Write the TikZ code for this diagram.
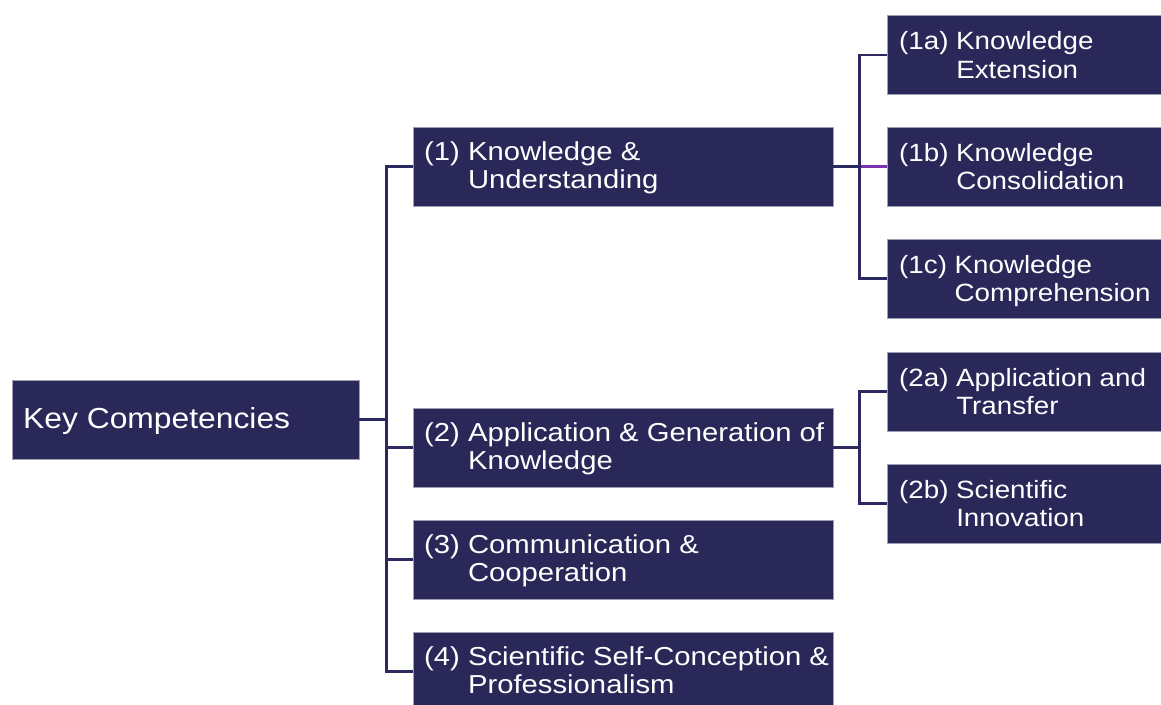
\documentclass[tikz,border=0pt]{standalone}
\usepackage{fontspec}
\setmainfont{Liberation Sans}
\newfontfamily\rootfont{Liberation Sans}[FakeStretch=1.097]
\newfontfamily\lonefont{Liberation Sans}[FakeStretch=1.125]
\newfontfamily\ltwofont{Liberation Sans}[FakeStretch=1.11]
\definecolor{boxc}{RGB}{42,39,89}
\definecolor{linec}{RGB}{44,41,96}
\definecolor{purp}{RGB}{120,50,172}
\newcommand\twolines[3]{\begin{tabular}[t]{@{}l@{}}#1 #2\\\hphantom{#1 }#3\end{tabular}}
\tikzset{
  boxbase/.style={rectangle, fill=boxc, draw=white!55!boxc, line width=0.8pt, inner sep=0pt, minimum height=79pt},
  rootbox/.style={boxbase, minimum width=347pt},
  lonebox/.style={boxbase, minimum width=420pt},
  ltwobox/.style={boxbase, minimum width=282pt},
  txt/.style={anchor=base west, inner sep=0pt, text=white},
  roottxt/.style={txt, font=\rootfont\fontsize{29}{34}\selectfont},
  lonetxt/.style={txt, font=\lonefont\fontsize{26}{28.5}\selectfont},
  ltwotxt/.style={txt, font=\ltwofont\fontsize{25}{28.5}\selectfont},
  conn/.style={draw=linec, line width=2.3pt},
  connp/.style={draw=purp, line width=2.3pt}
}
\begin{document}
\begin{tikzpicture}[x=1pt, y=-1pt]
\useasboundingbox (0,0) rectangle (1161,704);
\clip (0,0) rectangle (1161,704);
% boxes
\node[rootbox] (root) at (185.5,419.5) {};
\node[lonebox] (k1) at (623,166.5) {};
\node[lonebox] (k2) at (623,447.5) {};
\node[lonebox] (k3) at (623,559.5) {};
\node[lonebox] (k4) at (623,671.5) {};
\node[ltwobox] (k1a) at (1028,55) {};
\node[ltwobox] (k1b) at (1028,166.5) {};
\node[ltwobox] (k1c) at (1028,278.5) {};
\node[ltwobox] (k2a) at (1028,391.5) {};
\node[ltwobox] (k2b) at (1028,503.5) {};
% junctions
\coordinate (tr) at (386.5,419.5);
\coordinate (t1) at (859.5,166.5);
\coordinate (t2) at (859.5,447.5);
\coordinate (t1r) at (861,166.5);
% connectors
\draw[conn] (root.east) -- (tr);
\draw[conn] (tr) |- (k1.west);
\draw[conn] (tr) |- (k2.west);
\draw[conn] (tr) |- (k3.west);
\draw[conn] (tr) |- (k4.west);
\draw[conn] (k1.east) -- (t1);
\draw[conn] (t1) |- (k1a.west);
\draw[conn] (t1) |- (k1c.west);
\draw[connp] (t1r) -- (k1b.west);
\draw[conn] (k2.east) -- (t2);
\draw[conn] (t2) |- (k2a.west);
\draw[conn] (t2) |- (k2b.west);
% texts
\node[roottxt] (roott) at (23,428.3) {Key Competencies};
\node[lonetxt] (k1t) at (424,160) {\twolines{(1)}{Knowledge \&}{Understanding}};
\node[lonetxt] (k2t) at (424,441) {\twolines{(2)}{Application \& Generation of}{Knowledge}};
\node[lonetxt] (k3t) at (424,553) {\twolines{(3)}{Communication \&}{Cooperation}};
\node[lonetxt] (k4t) at (424,665) {\twolines{(4)}{Scientific Self-Conception \&}{Professionalism}};
\node[ltwotxt] (k1at) at (899,49.5) {\twolines{(1a)}{Knowledge}{Extension}};
\node[ltwotxt] (k1bt) at (899,161) {\twolines{(1b)}{Knowledge}{Consolidation}};
\node[ltwotxt] (k1ct) at (899,273) {\twolines{(1c)}{Knowledge}{Comprehension}};
\node[ltwotxt] (k2at) at (899,386) {\twolines{(2a)}{Application and}{Transfer}};
\node[ltwotxt] (k2bt) at (899,498) {\twolines{(2b)}{Scientific}{Innovation}};
\end{tikzpicture}
\end{document}
